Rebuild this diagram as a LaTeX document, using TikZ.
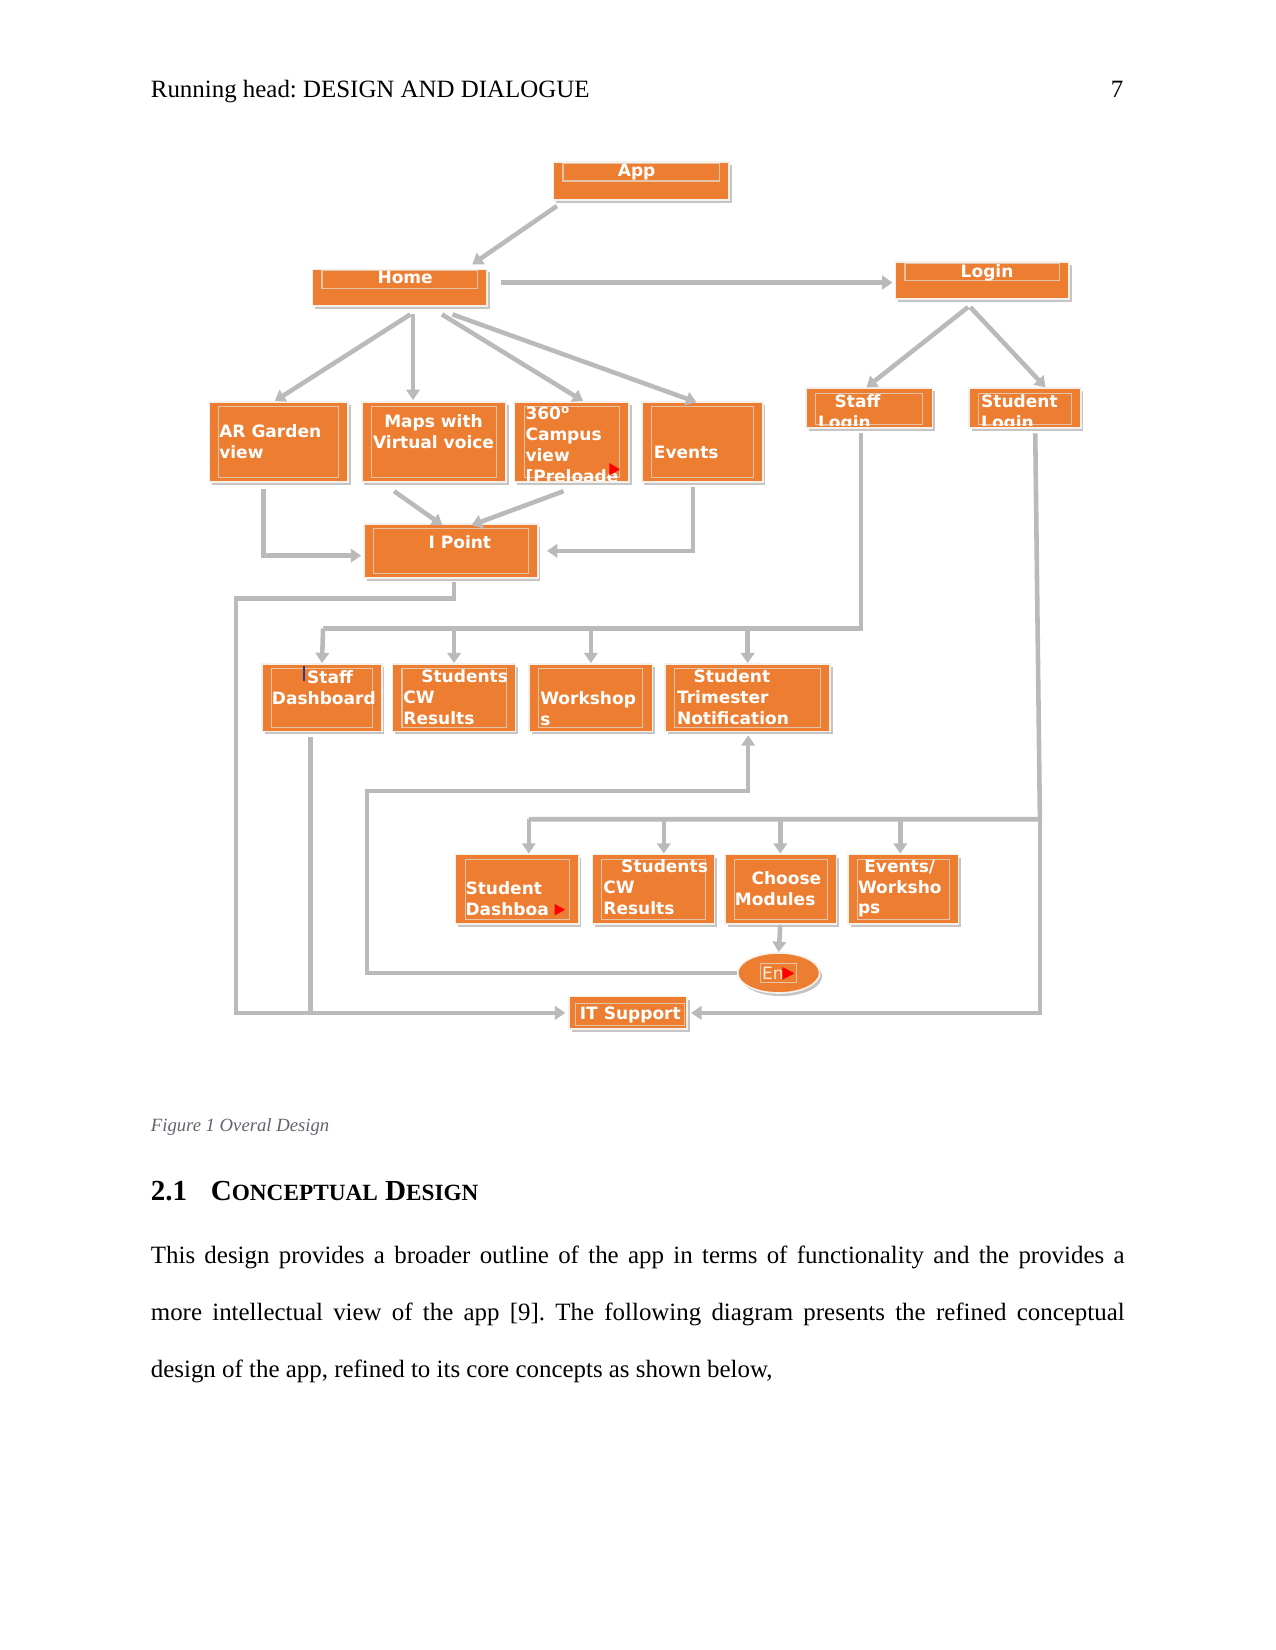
\documentclass[tikz,border=0pt]{standalone}
\usepackage{fontspec}
\setmainfont{Liberation Serif}
\newfontfamily\boxfont{DejaVu Sans}
\usepackage{xcolor}
\usetikzlibrary{shapes,arrows.meta,positioning,fit,calc,shadows}
\definecolor{boxorange}{RGB}{237,125,49}
\definecolor{pipegray}{RGB}{186,186,186}
\definecolor{framebeige}{RGB}{228,196,168}
\definecolor{rimwhite}{RGB}{246,240,234}
\definecolor{captiongray}{RGB}{96,100,110}
\definecolor{cursorblue}{RGB}{40,60,140}
\definecolor{entext}{RGB}{252,232,214}

\begin{document}
\frenchspacing
\begin{tikzpicture}[x=0.50685pt, y=-0.50685pt,
    box/.style={rectangle, fill=boxorange, draw=rimwhite, line width=0.8pt, inner sep=0pt,
      drop shadow={shadow xshift=1.2pt, shadow yshift=-1.5pt, fill=black!45}},
    framed/.style={box, path picture={\draw[framebeige, line width=0.5pt]
      ([shift={(9,4.5)}]path picture bounding box.north west) rectangle
      ([shift={(-9,-4)}]path picture bounding box.south east);}},
    topframed/.style={box, path picture={\draw[framebeige, line width=0.5pt]
      ([shift={(9,1)}]path picture bounding box.north west) rectangle
      ([shift={(-9,18)}]path picture bounding box.north east);}},
    lbl/.style={font=\boxfont\bfseries\fontsize{8.2}{10.1}\selectfont, text=white, inner sep=0pt, align=left},
    pipe/.style={draw=pipegray, line width=2.2pt},
    conn/.style={pipe, -{Triangle[width=6.5pt,length=5pt]}},
    page/.style={inner sep=0pt, font=\fontsize{12}{14}\selectfont}]

  \useasboundingbox (0,0) rectangle (1212,1568);

  % page text
  \node[page, anchor=base west] (runhead) at (143,93) {Running head: DESIGN AND DIALOGUE};
  \node[page, anchor=base east] (pagenum) at (1068,93) {7};

  % boxes
  \node[topframed, fit={(526,154) (693,190)}] (app) {};
  \node[topframed, fit={(297,256) (463,291)}] (home) {};
  \node[topframed, fit={(851,249) (1016,284)}] (login) {};
  \node[framed, fit={(199,382) (331,458)}] (argarden) {};
  \node[framed, fit={(344,382) (481,458)}] (maps) {};
  \node[framed, fit={(489,382) (598,458)}] (campus) {};
  \node[framed, fit={(610,382) (725,458)}] (events) {};
  \node[framed, fit={(766,369) (886,407)}] (stafflogin) {};
  \node[framed, fit={(921,369) (1027,407)}] (studentlogin) {};
  \node[framed, fit={(346,498) (511,549)}] (ipoint) {};
  \node[framed, fit={(249,631) (363,695)}] (staffdash) {};
  \node[framed, fit={(373,631) (490,695)}] (staffcw) {};
  \node[framed, fit={(503,631) (620,695)}] (workshops) {};
  \node[framed, fit={(632,631) (789,695)}] (trimester) {};
  \node[framed, fit={(433,812) (550,878)}] (studentdash) {};
  \node[framed, fit={(563,812) (679,878)}] (studentcw) {};
  \node[framed, fit={(689,812) (795,878)}] (modules) {};
  \node[framed, fit={(806,812) (911,878)}] (eventsws) {};
  \node[box, fit={(541,947) (653,978)}] (itsupport) {};
  \node[box, ellipse, minimum width=39.5pt, minimum height=19.3pt] (en) at (740,924.6) {};

  % box texts
  \node[lbl, anchor=base] (appT) at (605,168) {App};
  \node[lbl, anchor=base] (homeT) at (385,269) {Home};
  \node[lbl, anchor=base] (loginT) at (938,263.5) {Login};
  \node[lbl, anchor=north west] (argardenT) at (208,403.5) {AR Garden\\view};
  \node[lbl, anchor=north, align=center] (mapsT) at (412,393.5) {Maps with\\Virtual voice};
  \begin{scope}
    \clip (campus.north west) rectangle ([shift={(0,-2)}]campus.south east);
    \node[lbl, anchor=north west] (campusT) at (499,386.5) {360\textsuperscript{o}\\Campus\\view\\{[}Preloade};
  \end{scope}
  \node[lbl, anchor=base west] (eventsT) at (621,436) {Events};
  \begin{scope}
    \clip (stafflogin.north west) rectangle ([shift={(0,-3)}]stafflogin.south east);
    \node[lbl, anchor=north west] (staffloginT) at (777,374.5) {\hspace*{8pt}Staff\\Login};
  \end{scope}
  \begin{scope}
    \clip (studentlogin.north west) rectangle ([shift={(0,-3)}]studentlogin.south east);
    \node[lbl, anchor=north west] (studentloginT) at (932,374.5) {Student\\Login};
  \end{scope}
  \node[lbl, anchor=base] (ipointT) at (437,521) {I Point};
  \node[lbl, anchor=north west] (staffdashT) at (258,636.5) {\hspace*{17pt}Staff\\Dashboard};
  \node[lbl, anchor=north west] (staffcwT) at (383,635.5) {\hspace*{8.6pt}Students\\CW\\Results};
  \node[lbl, anchor=north west] (workshopsT) at (513,656.5) {Workshop\\s};
  \node[lbl, anchor=north west] (trimesterT) at (643,635.5) {\hspace*{8pt}Student\\Trimester\\Notification};
  \node[lbl, anchor=north west] (studentdashT) at (442,837.5) {Student\\Dashboa};
  \node[lbl, anchor=north west] (studentcwT) at (573,816.5) {\hspace*{8.6pt}Students\\CW\\Results};
  \node[lbl, anchor=north west] (modulesT) at (698,827.5) {\hspace*{8pt}Choose\\Modules};
  \node[lbl, anchor=north west] (eventswsT) at (815,816.5) {\hspace*{3pt}Events/\\Worksho\\ps};
  \node[lbl, anchor=base, draw=framebeige, line width=0.5pt, inner xsep=2pt, inner ysep=1.5pt] (itT) at (599,968.5) {IT Support};
  \node[lbl, anchor=base west, font=\boxfont\fontsize{8.2}{10.1}\selectfont, text=entext, draw=framebeige,
    line width=0.5pt, inner xsep=1pt, inner ysep=1.5pt] (enT) at (721.8,930.5) {En\hspace*{5.3pt}};

  % red markers and cursor
  \fill[red] (579,440) -- (589,446) -- (579,452) -- cycle;
  \fill[red] (527,859) -- (537,864.5) -- (527,870) -- cycle;
  \fill[red] (743.5,919) -- (755,925) -- (743.5,931) -- cycle;
  \draw[cursorblue, line width=0.6pt] (289,633) -- (289,647);

  % junctions
  \coordinate (ipleft) at (224.3,568.8);
  \coordinate (sbus) at (818,597.3);
  \coordinate (sbusL) at (307,597.3);
  \coordinate (tbus) at (988.2,778.5);
  \coordinate (tbusL) at (502.6,778.5);
  \coordinate (loopL) at (348.7,751.6);

  % connectors
  \draw[conn] ([shift={(4,5)}]app.south west) -- ([shift={(-15,-4)}]home.north east);
  \draw[conn] ([shift={(12,-5)}]home.east) -- ([shift={(-2,2)}]login.west);
  \draw[conn] ([shift={(10,7)}]home.south) -- ([shift={(-4,0)}]argarden.north);
  \draw[conn] ([shift={(12.5,7)}]home.south) -- ([shift={(-20,-1)}]maps.north);
  \draw[conn] ([shift={(40,7)}]home.south) -- ([shift={(10.7,0)}]campus.north);
  \draw[conn] ([shift={(50,7)}]home.south) -- ([shift={(-5.6,1)}]events.north);
  \draw[conn] ([shift={(-13.5,7)}]login.south) -- ([shift={(-2.6,0)}]stafflogin.north);
  \draw[conn] ([shift={(-11.5,7)}]login.south) -- ([shift={(19.6,0)}]studentlogin.north);

  \draw[conn] ([shift={(-14.5,6)}]argarden.south) |- ([shift={(-2,4.5)}]ipoint.west);
  \draw[conn] ([shift={(-38,8)}]maps.south) -- ([shift={(-8,2)}]ipoint.north);
  \draw[conn] ([shift={(-8,8)}]campus.south) -- ([shift={(19.5,2)}]ipoint.north);
  \draw[conn] ([shift={(-9,4)}]events.south) |- ([shift={(8,0)}]ipoint.east);
  \draw[conn] ([shift={(3,3)}]ipoint.south) |- (ipleft) |- ([shift={(-3,0)}]itsupport.west);

  \draw[pipe] ([shift={(-8,4)}]stafflogin.south) -- (sbus) -- (sbusL);
  \draw[conn] (sbusL) -- (staffdash.north);
  \foreach \n in {staffcw, workshops, trimester}
    \draw[conn] (\n.north |- sbus) -- (\n.north);
  \draw[pipe] ([shift={(-10.7,5)}]staffdash.south) coordinate (sdtop) -- (sdtop |- itsupport.west);

  \draw[pipe] ([shift={(9.8,4)}]studentlogin.south) -- (tbus) -- (tbusL);
  \foreach \n/\dx in {studentdash/11, studentcw/9.8, modules/-0.5, eventsws/-3} {
    \coordinate (tip) at ([shift={(\dx,0)}]\n.north);
    \draw[conn] (tip |- tbus) -- (tip);
  }
  \draw[conn] (tbus) |- ([shift={(3,0)}]itsupport.east);
  \draw[conn] ([shift={(-0.5,0)}]modules.south) -- (en.north);
  \draw[conn] (en.west) -| (loopL) -| ([shift={(0.5,3)}]trimester.south);

  % caption and text below
  \node[page, anchor=base west, font=\itshape\fontsize{9}{11}\selectfont, text=captiongray] (caption) at (143,1075) {Figure 1 Overal Design};
  \node[page, anchor=base west, font=\bfseries\fontsize{14}{16}\selectfont] (secnum) at (143,1141) {2.1};
  \node[page, anchor=base west, font=\bfseries\fontsize{14}{16}\selectfont] (sectitle) at (200,1141)
    {C{\fontsize{11.2}{13}\selectfont ONCEPTUAL} D{\fontsize{11.2}{13}\selectfont ESIGN}};
  \node[page, anchor=base west] (line1) at (143,1201)
    {\hbox to 469pt{This design provides a broader outline of the app in terms of functionality and the provides a}};
  \node[page, anchor=base west] (line2) at (143,1255)
    {\hbox to 469pt{more intellectual view of the app [9]. The following diagram presents the refined conceptual}};
  \node[page, anchor=base west] (line3) at (143,1309)
    {design of the app, refined to its core concepts as shown below,};
\end{tikzpicture}
\end{document}
